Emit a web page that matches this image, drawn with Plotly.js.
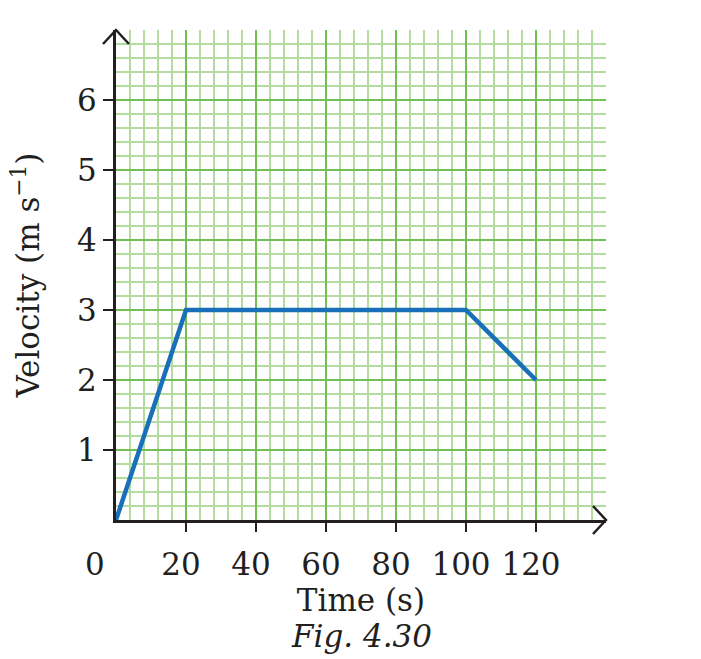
<!DOCTYPE html>
<html>
<head>
<meta charset="utf-8">
<script src="https://cdn.plot.ly/plotly-3.0.1.min.js"></script>
<style>html,body{margin:0;padding:0;background:#fff;}#chart{width:701px;height:659px;}</style>
</head>
<body>
<div id="chart"></div>
<script>
// Data
const timeS = [0, 20, 100, 120];
const velocity = [0, 3, 3, 2];
const xTickVals = [20, 40, 60, 80, 100, 120];
const xTickText = ['20', '40', '60', '80', '100', '120'];
const yTickVals = [1, 2, 3, 4, 5, 6];
const yTickText = ['1', '2', '3', '4', '5', '6'];
const xTitle = 'Time (s)';
const yTitle = 'Velocity (m s<sup>−1</sup>)';
const caption = '<i>Fig. 4.30</i>';

const FONT = 'DejaVu Serif, serif';
const INK = '#231f20';
const MAJOR = '#72bf55';
const MINOR = '#b3dda0';

const traces = [
  {x: timeS, y: velocity, type: 'scatter', mode: 'lines',
   line: {color: '#1a70b8', width: 4.5}, hoverinfo: 'skip', cliponaxis: false},
  {x: [null], y: [null], xaxis: 'x3', yaxis: 'y3', type: 'scatter', mode: 'lines', showlegend: false},
  {x: [null], y: [null], xaxis: 'x2', yaxis: 'y2', type: 'scatter', mode: 'lines', showlegend: false}
];

const arrow = {type: 'path', xref: 'paper', yref: 'paper', xsizemode: 'pixel', ysizemode: 'pixel',
  line: {color: INK, width: 2.5}};

const gridAxis = {showticklabels: false, ticks: '', zeroline: false, fixedrange: true, tickmode: 'linear', tick0: 0};

const layout = {
  width: 701, height: 659,
  margin: {l: 116, r: 95, t: 30, b: 139},
  paper_bgcolor: '#fff', plot_bgcolor: '#fff',
  showlegend: false,
  font: {family: FONT, size: 31, color: INK},
  // fine grid (every 4 s, every 0.2 m/s)
  xaxis: Object.assign({}, gridAxis, {range: [0, 140], dtick: 4, showgrid: true, gridcolor: MINOR, gridwidth: 1.5,
    showline: false}),
  yaxis: Object.assign({}, gridAxis, {range: [0, 7], dtick: 0.2, showgrid: true, gridcolor: MINOR, gridwidth: 1.5,
    showline: false}),
  // major grid (every 20 s, every 1 m/s), range nudged so the edge lines are kept
  xaxis3: Object.assign({}, gridAxis, {overlaying: 'x', anchor: 'y3', range: [0, 140.02], dtick: 20, showgrid: true,
    gridcolor: MAJOR, gridwidth: 2, showline: false}),
  yaxis3: Object.assign({}, gridAxis, {overlaying: 'y', anchor: 'x3', range: [0, 7.001], dtick: 1, showgrid: true,
    gridcolor: MAJOR, gridwidth: 2, showline: false}),
  // ticks, labels, axis lines
  xaxis2: {
    overlaying: 'x', anchor: 'y2', side: 'bottom', range: [0, 140],
    tickmode: 'array', tickvals: xTickVals, ticktext: xTickText,
    ticks: 'outside', ticklen: 9, tickwidth: 2, tickcolor: INK,
    ticklabelstandoff: 6, ticklabelshift: -5,
    showgrid: false, zeroline: false, fixedrange: true,
    showline: true, linecolor: INK, linewidth: 3,
    tickfont: {family: FONT, size: 31, color: INK},
    title: {text: xTitle, standoff: 4, font: {family: FONT, size: 31, color: INK}},
    automargin: false
  },
  yaxis2: {
    overlaying: 'y', anchor: 'x2', side: 'left', range: [0, 7],
    tickmode: 'array', tickvals: yTickVals, ticktext: yTickText,
    ticks: 'outside', ticklen: 10, tickwidth: 2, tickcolor: INK,
    ticklabelstandoff: 0,
    showgrid: false, zeroline: false, fixedrange: true,
    showline: true, linecolor: INK, linewidth: 3,
    tickfont: {family: FONT, size: 31, color: INK},
    title: {text: yTitle, standoff: 29, font: {family: FONT, size: 31, color: INK}},
    automargin: false
  },
  shapes: [
    Object.assign({}, arrow, {xanchor: 1, yanchor: 0, path: 'M-13,14 L0,0 L-13,-14'}),
    Object.assign({}, arrow, {xanchor: 0, yanchor: 1, path: 'M-13,-14 L0,0 L13,-14'})
  ],
  annotations: [
    {text: '0', xref: 'paper', yref: 'paper', x: 0, y: 0, xshift: -21, yshift: -24,
     xanchor: 'center', yanchor: 'top', showarrow: false, font: {family: FONT, size: 31, color: INK}},
    {text: caption, xref: 'paper', yref: 'paper', x: 0.5, y: 0, yshift: -96,
     xanchor: 'center', yanchor: 'top', showarrow: false, font: {family: FONT, size: 31, color: INK}}
  ]
};

Plotly.newPlot('chart', traces, layout, {displayModeBar: false, staticPlot: true});
</script>
</body>
</html>
